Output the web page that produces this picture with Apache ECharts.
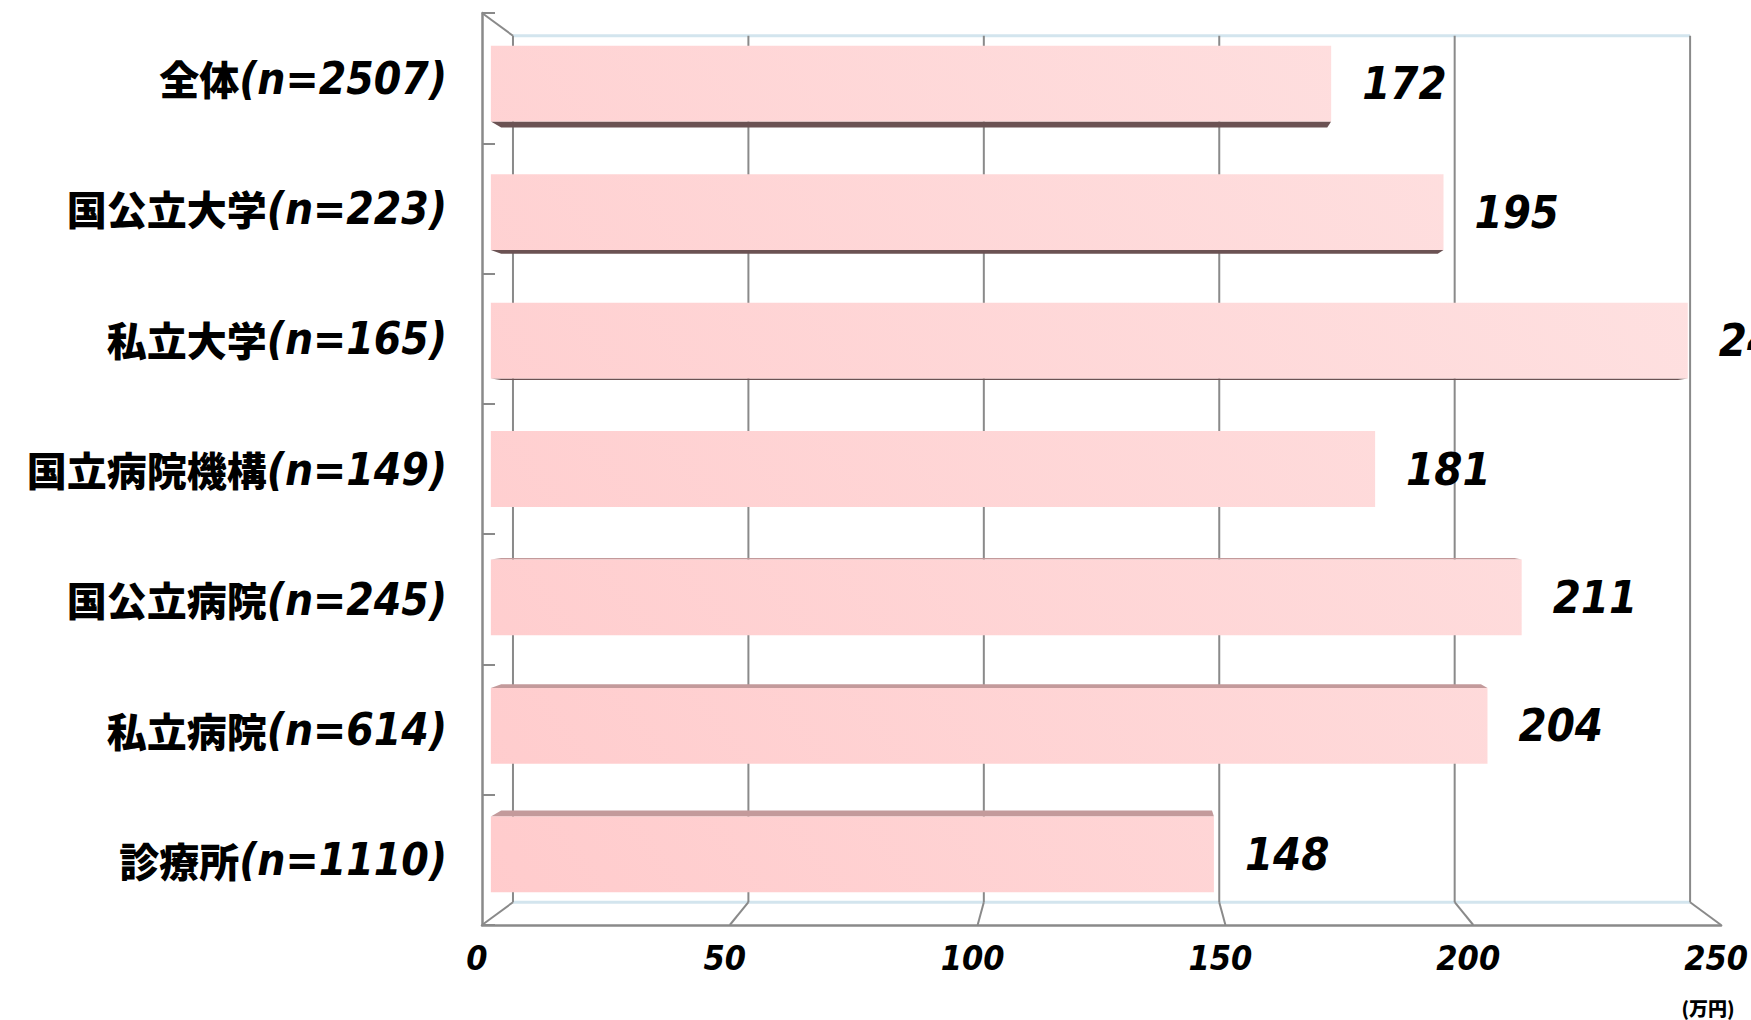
<!DOCTYPE html>
<html>
<head>
<meta charset="utf-8">
<script src="https://cdn.jsdelivr.net/npm/echarts@6/dist/echarts.min.js"></script>
<style>
html,body{margin:0;padding:0;background:#fff;}
#chart{width:1751px;height:1020px;}
</style>
</head>
<body>
<div id="chart"></div>
<script>
const categories = ['全体(n=2507)','国公立大学(n=223)','私立大学(n=165)','国立病院機構(n=149)','国公立病院(n=245)','私立病院(n=614)','診療所(n=1110)'];
const values = [172, 195, 245, 181, 211, 204, 148];
const xTicks = [0, 50, 100, 150, 200, 250];
const unitLabel = '(万円)';

const NARROW = "'Liberation Sans Narrow','DejaVu Sans Condensed','Liberation Sans',sans-serif";
const CJK = "'Noto Sans CJK JP','Noto Sans CJK SC',sans-serif";
const SF = 0.9857;  // bar front face depth
const SB = 0.969;   // bar back face depth
const SW = 0.95;    // back wall depth

function persp(cs) {
  const V = [cs.x + cs.width / 2, cs.y + cs.height / 2];
  return function (p, s) { return [V[0] + (p[0] - V[0]) * s, V[1] + (p[1] - V[1]) * s]; };
}

const chart = echarts.init(document.getElementById('chart'), null, {renderer: 'svg', width: 1751, height: 1020});

const option = {
  backgroundColor: '#ffffff',
  animation: false,
  grid: {left: 482, right: 28, top: 13, bottom: 95, containLabel: false},
  xAxis: {
    type: 'value', min: 0, max: 250, interval: 50,
    axisLine: {show: true, lineStyle: {color: '#8a8a8a', width: 2.5}},
    axisTick: {show: false},
    splitLine: {show: false},
    axisLabel: {
      margin: 16, fontFamily: NARROW, fontWeight: 'bold', fontStyle: 'italic',
      fontSize: 34, color: '#000', padding: [0, 10, 0, 0]
    }
  },
  yAxis: {
    type: 'category', data: categories, inverse: true,
    axisLine: {show: true, lineStyle: {color: '#8a8a8a', width: 2.5}},
    axisTick: {show: true, inside: true, length: 13, lineStyle: {color: '#8a8a8a', width: 2}},
    splitLine: {show: false},
    axisLabel: {
      margin: 35,
      formatter: function (v) {
        const k = v.indexOf('(');
        return '{c|' + v.slice(0, k) + '}{a|' + v.slice(k) + '}';
      },
      rich: {
        c: {fontFamily: CJK, fontWeight: 900, fontSize: 40, color: '#000', lineHeight: 52},
        a: {fontFamily: NARROW, fontWeight: 'bold', fontStyle: 'italic', fontSize: 44, color: '#000', lineHeight: 52}
      }
    }
  },
  graphic: [{
    type: 'text', x: 1708, y: 1007,
    style: {text: unitLabel, fontFamily: CJK, fontWeight: 900, fontSize: 19, fill: '#000',
      textAlign: 'center', textVerticalAlign: 'middle'}
  }],
  series: [
    {
      type: 'custom', name: 'frame', z: 1, silent: true,
      data: xTicks.map(function (t) { return [t, 0]; }),
      encode: {x: 0, y: 1},
      renderItem: function (params, api) {
        const cs = params.coordSys;
        const P = persp(cs);
        const t = api.value(0);
        const xf = api.coord([t, 0])[0];
        const top = cs.y, bot = cs.y + cs.height;
        const bt = P([xf, top], SW), bb = P([xf, bot], SW);
        const gray = {stroke: '#8a8a8a', lineWidth: 2};
        const children = [];
        if (params.dataIndex === 0) {
          const bl = P([cs.x, top], SW), br = P([cs.x + cs.width, top], SW);
          const fl = P([cs.x, bot], SW), fr = P([cs.x + cs.width, bot], SW);
          children.push({type: 'line', shape: {x1: bl[0], y1: bl[1], x2: br[0], y2: br[1]},
            style: {stroke: '#d3e5ee', lineWidth: 3}});
          children.push({type: 'line', shape: {x1: fl[0], y1: fl[1], x2: fr[0], y2: fr[1]},
            style: {stroke: '#d3e5ee', lineWidth: 3}});
          children.push({type: 'line', shape: {x1: xf, y1: top, x2: bt[0], y2: bt[1]}, style: gray});
        }
        children.push({type: 'line', shape: {x1: bt[0], y1: bt[1], x2: bb[0], y2: bb[1]}, style: gray});
        children.push({type: 'line', shape: {x1: xf, y1: bot, x2: bb[0], y2: bb[1]}, style: gray});
        return {type: 'group', children: children};
      }
    },
    {
      type: 'custom', name: 'bars', z: 5,
      data: values.map(function (v, i) { return [v, i]; }),
      encode: {x: 0, y: 1},
      renderItem: function (params, api) {
        const cs = params.coordSys;
        const P = persp(cs);
        const Vy = cs.y + cs.height / 2;
        const v = api.value(0), ci = api.value(1);
        const x0 = api.coord([0, ci])[0];
        const end = api.coord([v, ci]);
        const x1 = end[0], yc = end[1];
        const bh = api.size([0, 1])[1] * 0.59;
        const yt = yc - bh / 2, yb = yc + bh / 2;
        const f = [P([x0, yt], SF), P([x1, yt], SF), P([x1, yb], SF), P([x0, yb], SF)];
        const b = [P([x0, yt], SB), P([x1, yt], SB), P([x1, yb], SB), P([x0, yb], SB)];
        const children = [];
        if (yt > Vy) {
          children.push({type: 'polygon', shape: {points: [b[0], b[1], f[1], f[0]]},
            style: {fill: '#c39a9b'}});
        }
        if (yb < Vy) {
          children.push({type: 'polygon', shape: {points: [f[3], f[2], b[2], b[3]]},
            style: {fill: '#6b5253'}});
        }
        children.push({type: 'polygon', shape: {points: f},
          style: {fill: new echarts.graphic.LinearGradient(cs.x, cs.y + cs.height, cs.x + cs.width, cs.y,
            [{offset: 0, color: '#ffcbcc'}, {offset: 1, color: '#fee3e3'}], true)}});
        const lp = P([x1, yc], SF);
        children.push({type: 'text', x: lp[0] + 31, y: lp[1],
          style: {text: String(v), fontFamily: NARROW, fontWeight: 'bold', fontStyle: 'italic',
            fontSize: 45, fill: '#000', textAlign: 'left', textVerticalAlign: 'middle'}});
        return {type: 'group', children: children};
      }
    }
  ]
};
chart.setOption(option);
</script>
</body>
</html>
